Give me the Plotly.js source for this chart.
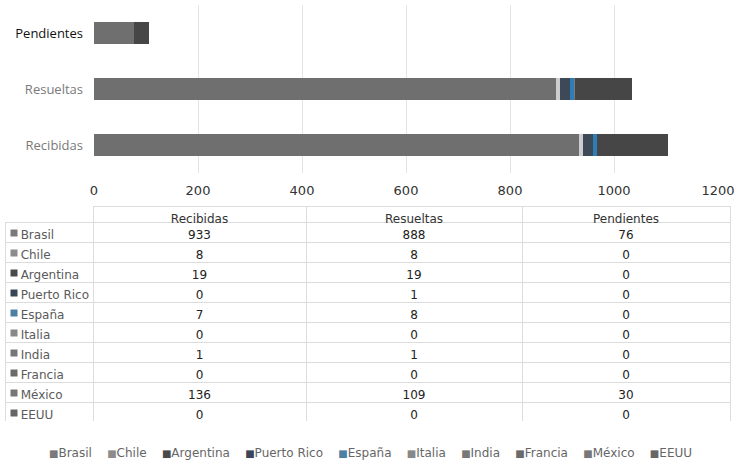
<!DOCTYPE html>
<html>
<head>
<meta charset="utf-8">
<script src="https://cdn.plot.ly/plotly-3.0.1.min.js"></script>
<style>html,body{margin:0;padding:0;background:#fff;}#chart{width:735px;height:465px;}</style>
</head>
<body>
<div id="chart"></div>
<script>
// ---- data ----
const categories = ['Recibidas', 'Resueltas', 'Pendientes'];
const countries = ['Brasil', 'Chile', 'Argentina', 'Puerto Rico', 'España', 'Italia', 'India', 'Francia', 'México', 'EEUU'];
const recibidas = [933, 8, 19, 0, 7, 0, 1, 0, 136, 0];
const resueltas = [888, 8, 19, 1, 8, 0, 1, 0, 109, 0];
const pendientes = [76, 0, 0, 0, 0, 0, 0, 0, 30, 0];
const xTicks = [0, 200, 400, 600, 800, 1000, 1200];

// ---- styles ----
const barColors = ['#6f6f6f', '#cdcdcd', '#3d4956', '#2b3a52', '#2f7db6', '#8a8a8a', '#7a7a7a', '#828282', '#464646', '#9a9a9a'];
const keyColors = ['#7a7a7a', '#8c8c8c', '#4a4a4a', '#3a4558', '#4d7fa3', '#888888', '#777777', '#6a6a6a', '#777777', '#666666'];

const W = 735, H = 465;
const NB = '\u00a0';
const traces = countries.map((c, i) => ({
  type: 'bar',
  orientation: 'h',
  name: c,
  y: categories,
  x: [recibidas[i], resueltas[i], pendientes[i]],
  marker: {color: barColors[i], line: {width: 0}},
  showlegend: false,
  hoverinfo: 'x+name'
}));

// colour keys in the table's first column, on hidden axes aligned with the table rows
traces.push({
  type: 'scatter', mode: 'markers',
  xaxis: 'x2', yaxis: 'y2',
  x: countries.map(() => 0),
  y: countries,
  marker: {symbol: 'square', size: 7, color: keyColors, line: {width: 0}},
  showlegend: false, hoverinfo: 'skip', cliponaxis: false
});

// table (plain text only, no regular spaces so rows keep their height)
const labelCol = countries.map(c => NB + NB + c.replace(/ /g, NB));
traces.push({
  type: 'table',
  domain: {x: [5 / W, 730 / W], y: [1 - 422 / H, 1 - 206 / H]},
  columnwidth: [88, 213, 216, 208],
  header: {
    values: [''].concat(categories),
    align: 'center',
    height: 16,
    font: {family: 'DejaVu Sans', size: 12, color: '#333'},
    fill: {color: 'rgba(0,0,0,0)'},
    line: {color: ['rgba(0,0,0,0)', '#dcdcdc', '#dcdcdc', '#dcdcdc'], width: 1}
  },
  cells: {
    values: [labelCol, recibidas, resueltas, pendientes],
    align: ['left', 'center', 'center', 'center'],
    height: 20,
    font: {family: 'DejaVu Sans', size: 12, color: ['#5a5a5a', '#222', '#222', '#222']},
    fill: {color: 'rgba(0,0,0,0)'},
    line: {color: '#dcdcdc', width: 1}
  }
});

const key = (i, size) => '<span style="color:' + keyColors[i] + ';font-size:' + size + 'px">■</span>';
const legendText = countries.map((c, i) => key(i, 10) + c.replace(/ /g, NB)).join(NB + NB + NB + NB);

const layout = {
  width: W, height: H,
  margin: {l: 0, r: 0, t: 0, b: 0},
  paper_bgcolor: 'white', plot_bgcolor: 'rgba(0,0,0,0)',
  barmode: 'stack',
  bargap: 0.607,
  font: {family: 'Open Sans', size: 13, color: '#555'},
  xaxis: {
    domain: [94 / W, 718 / W],
    range: [0, 1200],
    tickvals: xTicks,
    ticktext: xTicks.map(String),
    showgrid: true, gridcolor: '#e4e4e4', gridwidth: 1,
    zeroline: false, showline: false,
    ticks: '',
    ticklabelstandoff: 8,
    tickfont: {family: 'DejaVu Sans', size: 13, color: '#333'},
    automargin: false,
    fixedrange: true
  },
  yaxis: {
    domain: [1 - 173 / H, 1 - 5 / H],
    type: 'category',
    tickvals: categories,
    ticktext: categories.map(c => c === 'Pendientes' ? '<span style="color:#111">' + c + '</span>' : c),
    tickfont: {family: 'Open Sans', size: 13, color: '#7a7a7a'},
    showgrid: false, zeroline: false, showline: false,
    ticks: '',
    ticklabelstandoff: 10,
    automargin: false,
    fixedrange: true
  },
  xaxis2: {
    domain: [10 / W, 18 / W], range: [-1, 1], anchor: 'y2',
    visible: false, fixedrange: true
  },
  yaxis2: {
    domain: [1 - 423 / H, 1 - 223 / H], anchor: 'x2',
    type: 'category', categoryorder: 'array', categoryarray: countries,
    range: [countries.length - 0.5, -0.5],
    visible: false, fixedrange: true
  },
  annotations: [{
    xref: 'paper', yref: 'paper',
    x: 370 / W, y: 1 - 453 / H,
    xanchor: 'center', yanchor: 'middle',
    showarrow: false,
    text: legendText,
    font: {family: 'DejaVu Sans', size: 12, color: '#666'}
  }]
};

Plotly.newPlot('chart', traces, layout, {displayModeBar: false, staticPlot: true});
</script>
</body>
</html>
